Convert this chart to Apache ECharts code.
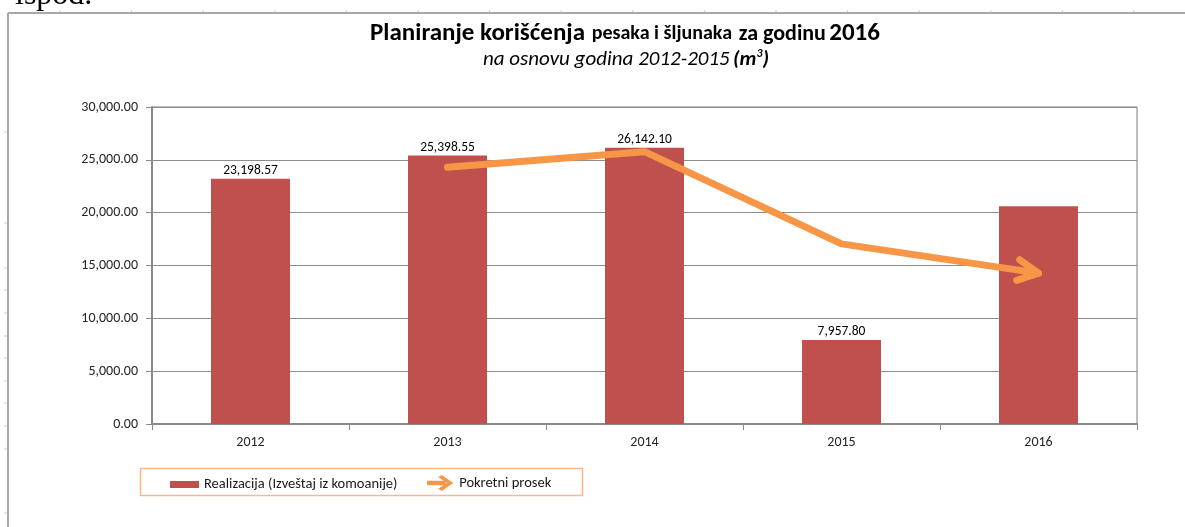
<!DOCTYPE html>
<html>
<head>
<meta charset="utf-8">
<script src="https://cdn.jsdelivr.net/npm/echarts@6/dist/echarts.min.js"></script>
<style>
  html, body { margin: 0; padding: 0; background: #fff; }
  #main { width: 1185px; height: 527px; }
</style>
</head>
<body>
<div id="main"></div>
<script>
// podaci sa grafikona
const years = ['2012', '2013', '2014', '2015', '2016']
const realizacija = [23198.57, 25398.55, 26142.10, 7957.80, 20600.00]
const showValue = [true, true, true, true, false]
const pokretniProsek = [null, 24298.56, 25770.33, 17049.95, 14279.00]
const yMin = 0
const yMax = 30000
const yStep = 5000

const barName = 'Realizacija (Izveštaj iz komoanije)'
const lineName = 'Pokretni prosek'

const font = 'Carlito, Lato, sans-serif'
const orange = '#F79646'

const fmt = (v) => Number(v).toLocaleString('en-US', { minimumFractionDigits: 2, maximumFractionDigits: 2 })

const arrowIcon = 'path://M0,5.5 L20,5.5 L20,10.5 L0,10.5 Z M12,2 L15.5,-0.5 L28,8 L15.5,16.5 L12,14 L21.5,8 Z'

// okvir stranice (Word)
const frame = [
  { type: 'line', shape: { x1: 8, y1: 13, x2: 1185, y2: 13 }, style: { stroke: '#a8a8a8', lineWidth: 2 } },
  { type: 'line', shape: { x1: 8, y1: 13, x2: 8, y2: 527 }, style: { stroke: '#a8a8a8', lineWidth: 2 } }
]
for (let i = 0; i < 16; i++) {
  const x = 60 + i * 71.6
  frame.push({ type: 'line', shape: { x1: x, y1: 10, x2: x, y2: 12 }, style: { stroke: '#cfcfcf', lineWidth: 1 } })
}
;[132, 223, 268, 290, 313, 336, 358, 381, 403, 426, 449, 513].forEach((y) => {
  frame.push({ type: 'line', shape: { x1: 4, y1: y, x2: 7, y2: y }, style: { stroke: '#cfcfcf', lineWidth: 1 } })
})

// vrh strelice na kraju pokretnog proseka
function renderArrow(params, api) {
  const p0 = api.coord([api.value(0), api.value(1)])
  const p1 = api.coord([api.value(2), api.value(3)])
  const ang = Math.atan2(p1[1] - p0[1], p1[0] - p0[0]) + Math.PI
  const len = 23
  const spread = 27 * Math.PI / 180
  const a = [p1[0] + len * Math.cos(ang - spread), p1[1] + len * Math.sin(ang - spread)]
  const b = [p1[0] + len * Math.cos(ang + spread), p1[1] + len * Math.sin(ang + spread)]
  return {
    type: 'polyline',
    shape: { points: [a, p1, b] },
    style: { stroke: orange, lineWidth: 7, fill: null, lineCap: 'round', lineJoin: 'round' }
  }
}

const myChart = echarts.init(document.getElementById('main'))

const option = {
  animation: false,
  backgroundColor: '#fff',
  textStyle: { fontFamily: font },
  graphic: [
    ...frame,
    {
      type: 'text',
      x: 15, y: -4,
      style: { text: 'ispod.', font: '32px "Liberation Serif", serif', fill: '#000', align: 'left', verticalAlign: 'middle' }
    },
    {
      type: 'text',
      x: 625, y: 34,
      style: {
        text: '{a|Planiranje korišćenja}  {b|pesaka i šljunaka}  {c|za godinu} {a|2016}',
        align: 'center',
        verticalAlign: 'middle',
        rich: {
          a: { fontFamily: font, fontSize: 25, fontWeight: 'bold', fill: '#000' },
          b: { fontFamily: font, fontSize: 20, fontWeight: 'bold', fill: '#000' },
          c: { fontFamily: font, fontSize: 22, fontWeight: 'bold', fill: '#000' }
        }
      }
    },
    {
      type: 'text',
      x: 626, y: 60,
      style: {
        text: '{i|na osnovu godina 2012-2015} {bi|(m}{s|3}{bi|)}',
        align: 'center',
        verticalAlign: 'middle',
        rich: {
          i: { fontFamily: font, fontSize: 21, fontStyle: 'italic', fill: '#000', lineHeight: 24 },
          bi: { fontFamily: font, fontSize: 21, fontStyle: 'italic', fontWeight: 'bold', fill: '#000', lineHeight: 24 },
          s: { fontFamily: font, fontSize: 12, fontStyle: 'italic', fontWeight: 'bold', fill: '#000', verticalAlign: 'top', lineHeight: 24 }
        }
      }
    },
    {
      type: 'rect',
      shape: { x: 140.5, y: 468.5, width: 442, height: 27 },
      style: { fill: 'none', stroke: '#F9B98A', lineWidth: 1.5 }
    }
  ],
  legend: [
    {
      data: [{ name: barName, icon: 'rect' }],
      left: 165, top: 472,
      itemWidth: 29, itemHeight: 7,
      itemGap: 5,
      textStyle: { fontSize: 14.5, color: '#1a1a1a', fontFamily: font }
    },
    {
      data: [{ name: lineName, icon: arrowIcon }],
      left: 422, top: 470,
      itemWidth: 28, itemHeight: 16,
      textStyle: { fontSize: 14.5, color: '#1a1a1a', fontFamily: font }
    }
  ],
  grid: {
    left: 152, right: 48, top: 107, bottom: 103,
    show: true,
    borderColor: '#7f7f7f',
    borderWidth: 1
  },
  xAxis: {
    type: 'category',
    data: years,
    axisLine: { lineStyle: { color: '#8a8a8a', width: 2 } },
    axisTick: { show: true, length: 6, lineStyle: { color: '#8a8a8a' } },
    axisLabel: { fontSize: 14, color: '#262626', margin: 11, fontFamily: font }
  },
  yAxis: {
    type: 'value',
    min: yMin,
    max: yMax,
    interval: yStep,
    axisLine: { show: true, lineStyle: { color: '#8a8a8a', width: 2 } },
    axisTick: { show: true, length: 6, lineStyle: { color: '#8a8a8a' } },
    splitLine: { lineStyle: { color: '#8c8c8c', width: 1 } },
    axisLabel: { fontSize: 14, color: '#262626', margin: 14, fontFamily: font, formatter: fmt }
  },
  series: [
    {
      name: barName,
      type: 'bar',
      barWidth: 79,
      itemStyle: { color: '#C0504D' },
      label: {
        show: true,
        position: 'top',
        distance: 1,
        fontSize: 13.5,
        color: '#000',
        fontFamily: font,
        formatter: (p) => fmt(p.value)
      },
      data: realizacija.map((v, i) => ({ value: v, label: { show: showValue[i] } }))
    },
    {
      name: lineName,
      type: 'line',
      z: 5,
      symbol: 'none',
      showSymbol: false,
      connectNulls: false,
      itemStyle: { color: orange },
      lineStyle: { color: orange, width: 7, cap: 'round', join: 'round' },
      data: pokretniProsek
    },
    {
      name: lineName,
      type: 'custom',
      z: 6,
      silent: true,
      itemStyle: { color: orange },
      renderItem: renderArrow,
      encode: { x: [0, 2], y: [1, 3] },
      data: [[3, pokretniProsek[3], 4, pokretniProsek[4]]]
    }
  ]
}

myChart.setOption(option)
</script>
</body>
</html>
